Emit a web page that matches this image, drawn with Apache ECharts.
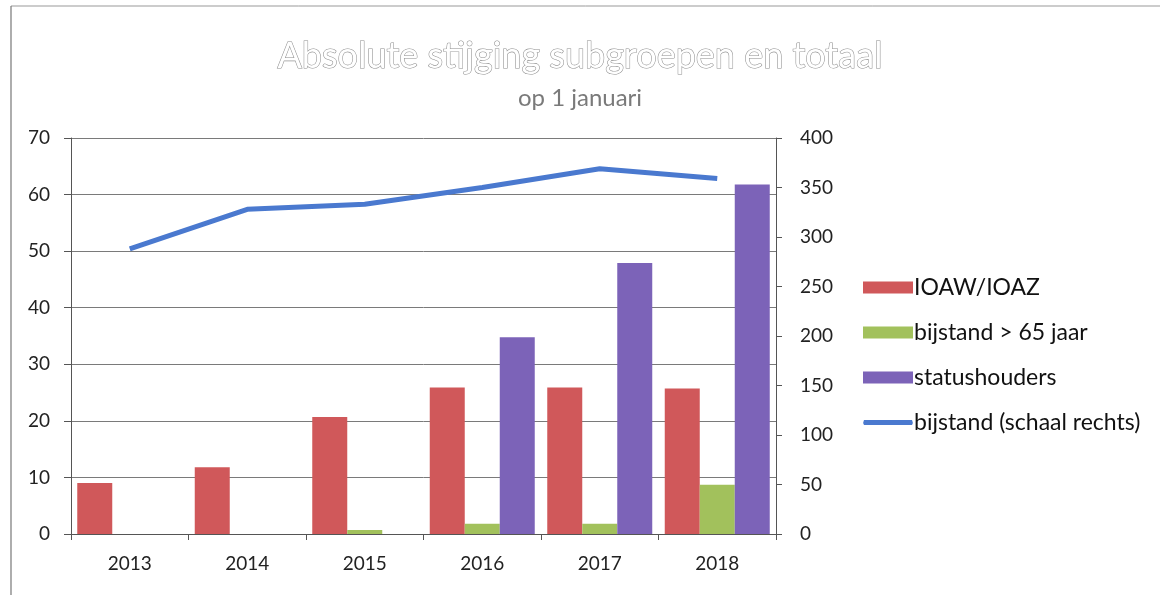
<!DOCTYPE html>
<html>
<head>
<meta charset="utf-8">
<script src="https://cdn.jsdelivr.net/npm/echarts@6/dist/echarts.min.js"></script>
<style>
html,body{margin:0;padding:0;background:#fff;}
#chart{width:1160px;height:595px;}
</style>
</head>
<body>
<div id="chart"></div>
<script>
// Data
var categories = ['2013', '2014', '2015', '2016', '2017', '2018'];
var ioaw = [9, 11.8, 20.7, 25.9, 25.9, 25.7];
var bijstand65 = [0, 0, 0.7, 1.8, 1.8, 8.7];
var statushouders = [0, 0, 0, 34.8, 47.9, 61.8];
var bijstand = [288, 328, 333, 350, 369, 359];
var leftTicks = { min: 0, max: 70, interval: 10 };
var rightTicks = { min: 0, max: 400, interval: 50 };
var titleText = 'Absolute stijging subgroepen en totaal';
var subtitleText = 'op 1 januari';
var seriesNames = ['IOAW/IOAZ', 'bijstand > 65 jaar', 'statushouders', 'bijstand (schaal rechts)'];

var FONT = 'Lato';
var chart = echarts.init(document.getElementById('chart'), null, { renderer: 'canvas' });
var axisTextColor = '#222';
var option = {
  backgroundColor: '#fff',
  animation: false,
  textStyle: { fontFamily: FONT },
  title: [
    {
      text: titleText,
      left: 'center',
      top: 33,
      textStyle: {
        fontFamily: FONT, fontSize: 36, fontWeight: 'normal',
        color: '#ffffff', textBorderColor: '#8e8e8e', textBorderWidth: 1.1
      }
    },
    {
      text: subtitleText,
      left: 'center',
      top: 81,
      textStyle: { fontFamily: FONT, fontSize: 24, fontWeight: 'normal', color: '#7a7a7a' }
    }
  ],
  graphic: [
    { type: 'line', shape: { x1: 11, y1: 6, x2: 1160, y2: 6 }, style: { stroke: '#999', lineWidth: 1 } },
    { type: 'line', shape: { x1: 11, y1: 6, x2: 11, y2: 595 }, style: { stroke: '#777', lineWidth: 1.2 } }
  ],
  legend: {
    orient: 'vertical',
    left: 863,
    top: 276,
    padding: 0,
    itemWidth: 50,
    itemHeight: 12,
    itemGap: 22,
    textStyle: { fontFamily: FONT, fontSize: 23, color: '#111', padding: [0, 0, 0, -4] },
    data: [
      { name: seriesNames[0], icon: 'rect' },
      { name: seriesNames[1], icon: 'rect' },
      { name: seriesNames[2], icon: 'rect' },
      { name: seriesNames[3], icon: 'path://M0,0 M50,12 M1,3.5 L49,3.5 Q50.5,6 49,8.5 L1,8.5 Q-0.5,6 1,3.5 Z' }
    ]
  },
  grid: { left: 71, right: 384, top: 138, bottom: 61, containLabel: false },
  xAxis: {
    type: 'category',
    data: categories,
    axisLine: { lineStyle: { color: '#555', width: 1 } },
    axisTick: { show: true, length: 6, lineStyle: { color: '#555' } },
    axisLabel: { fontFamily: FONT, fontSize: 19, color: axisTextColor, margin: 20 }
  },
  yAxis: [
    {
      type: 'value',
      min: leftTicks.min, max: leftTicks.max, interval: leftTicks.interval,
      axisLine: { show: true, lineStyle: { color: '#555' } },
      axisTick: { show: true, length: 7, lineStyle: { color: '#555' } },
      axisLabel: { fontFamily: FONT, fontSize: 19, color: axisTextColor, margin: 21 },
      splitLine: { show: true, lineStyle: { color: '#7a7a7a', width: 1 } }
    },
    {
      type: 'value',
      min: rightTicks.min, max: rightTicks.max, interval: rightTicks.interval,
      position: 'right',
      axisLine: { show: true, lineStyle: { color: '#555' } },
      axisTick: { show: true, length: 6, lineStyle: { color: '#555' } },
      axisLabel: { fontFamily: FONT, fontSize: 19, color: axisTextColor, margin: 24 },
      splitLine: { show: false }
    }
  ],
  series: [
    {
      name: seriesNames[0], type: 'bar', yAxisIndex: 0, data: ioaw,
      barWidth: 35, barGap: '0%',
      itemStyle: { color: '#d0585a' }
    },
    {
      name: seriesNames[1], type: 'bar', yAxisIndex: 0, data: bijstand65,
      barWidth: 35, barGap: '0%',
      itemStyle: { color: '#a2c15c' }
    },
    {
      name: seriesNames[2], type: 'bar', yAxisIndex: 0, data: statushouders,
      barWidth: 35, barGap: '0%',
      itemStyle: { color: '#7c63b8' }
    },
    {
      name: seriesNames[3], type: 'line', yAxisIndex: 1, data: bijstand,
      symbol: 'none', z: 5,
      lineStyle: { color: '#4a79cf', width: 5 },
      itemStyle: { color: '#4a79cf' }
    }
  ]
};
chart.setOption(option);
</script>
</body>
</html>
